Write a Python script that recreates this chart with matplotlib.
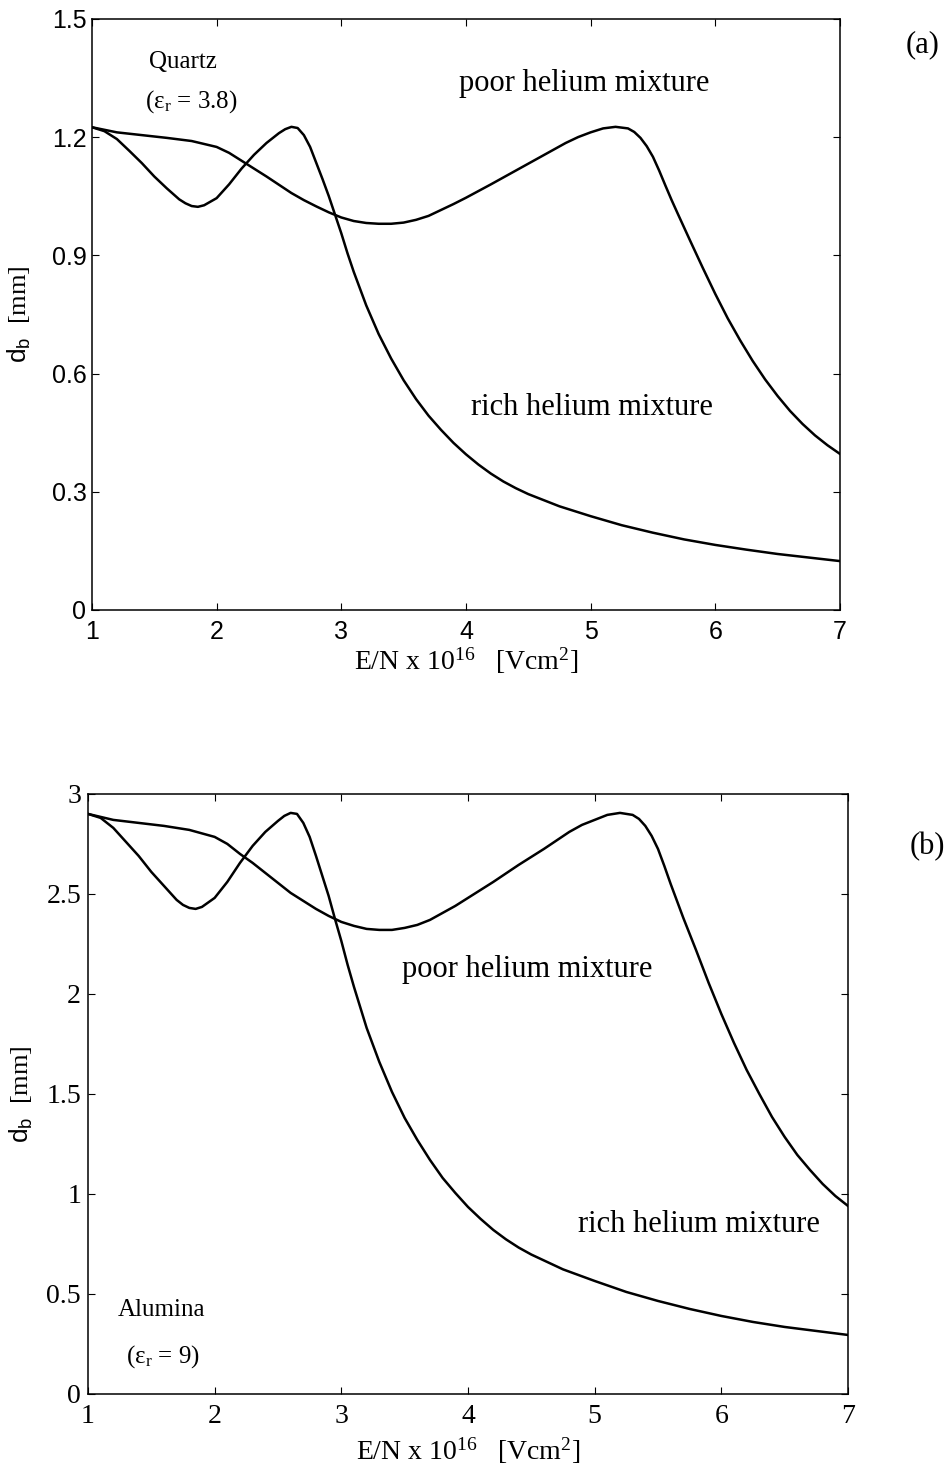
import numpy as np
import matplotlib
matplotlib.use('Agg')
import matplotlib.pyplot as plt

plt.rcParams['mathtext.fontset'] = 'custom'
plt.rcParams['mathtext.rm'] = 'Liberation Serif'
plt.rcParams['mathtext.sf'] = 'Liberation Sans'
plt.rcParams['mathtext.it'] = 'Liberation Serif:italic'

#1.) data
# (a) quartz
x_rich_a = [1.0, 1.1, 1.2, 1.3, 1.4, 1.5, 1.6, 1.7, 1.75, 1.8, 1.85, 1.9, 2.0,
            2.1, 2.2, 2.3, 2.4, 2.5, 2.55, 2.6, 2.65, 2.7, 2.75, 2.8, 2.85, 2.9,
            2.95, 3.0, 3.05, 3.1, 3.2, 3.3, 3.4, 3.5, 3.6, 3.7, 3.8, 3.9, 4.0,
            4.1, 4.2, 4.3, 4.4, 4.5, 4.75, 5.0, 5.25, 5.5, 5.75, 6.0, 6.25, 6.5,
            6.75, 7.0]
d_rich_a = [1.225, 1.215, 1.195, 1.165, 1.134, 1.10, 1.07, 1.042, 1.032, 1.025,
            1.023, 1.027, 1.045, 1.08, 1.12, 1.155, 1.185, 1.21, 1.22, 1.226,
            1.223, 1.205, 1.175, 1.134, 1.093, 1.05, 1.003, 0.956, 0.905, 0.858,
            0.773, 0.70, 0.638, 0.583, 0.535, 0.493, 0.457, 0.424, 0.395, 0.369,
            0.346, 0.326, 0.309, 0.294, 0.263, 0.238, 0.215, 0.196, 0.179, 0.165,
            0.153, 0.142, 0.133, 0.124]

x_poor_a = [1.0, 1.2, 1.4, 1.6, 1.8, 2.0, 2.1, 2.2, 2.3, 2.4, 2.5, 2.6, 2.7, 2.8,
            2.9, 3.0, 3.1, 3.2, 3.3, 3.4, 3.5, 3.6, 3.7, 3.8, 3.9, 4.0, 4.2, 4.4,
            4.6, 4.8, 4.9, 5.0, 5.1, 5.2, 5.3, 5.35, 5.4, 5.45, 5.5, 5.55, 5.6,
            5.65, 5.7, 5.8, 5.9, 6.0, 6.1, 6.2, 6.3, 6.4, 6.5, 6.6, 6.7, 6.8,
            6.9, 7.0]
d_poor_a = [1.225, 1.212, 1.205, 1.198, 1.19, 1.175, 1.16, 1.14, 1.12, 1.10,
            1.079, 1.058, 1.04, 1.024, 1.009, 0.996, 0.987, 0.982, 0.98, 0.98,
            0.983, 0.99, 1.0, 1.015, 1.03, 1.046, 1.08, 1.115, 1.15, 1.185, 1.2,
            1.212, 1.222, 1.226, 1.222, 1.213, 1.198, 1.177, 1.15, 1.115, 1.077,
            1.04, 1.005, 0.936, 0.868, 0.802, 0.74, 0.684, 0.632, 0.585, 0.543,
            0.505, 0.472, 0.443, 0.418, 0.396]

# (b) alumina
x_rich_b = x_rich_a
d_rich_b = [2.90, 2.88, 2.83, 2.76, 2.69, 2.61, 2.54, 2.47, 2.445, 2.43, 2.425,
            2.435, 2.48, 2.56, 2.655, 2.74, 2.81, 2.865, 2.89, 2.905, 2.90, 2.855,
            2.785, 2.69, 2.59, 2.49, 2.375, 2.265, 2.145, 2.035, 1.83, 1.66, 1.51,
            1.38, 1.27, 1.17, 1.08, 1.005, 0.935, 0.875, 0.82, 0.773, 0.732, 0.697,
            0.623, 0.565, 0.51, 0.465, 0.425, 0.39, 0.36, 0.335, 0.315, 0.295]

x_poor_b = x_poor_a
d_poor_b = [2.90, 2.87, 2.855, 2.84, 2.82, 2.785, 2.75, 2.70, 2.655, 2.605,
            2.555, 2.505, 2.465, 2.425, 2.39, 2.36, 2.34, 2.325, 2.32, 2.32, 2.33,
            2.345, 2.37, 2.405, 2.44, 2.48, 2.56, 2.645, 2.725, 2.81, 2.845, 2.87,
            2.895, 2.905, 2.895, 2.875, 2.84, 2.79, 2.725, 2.64, 2.55, 2.465, 2.38,
            2.22, 2.055, 1.90, 1.755, 1.62, 1.50, 1.385, 1.285, 1.195, 1.12, 1.05,
            0.99, 0.94]

xticks = [1, 2, 3, 4, 5, 6, 7]
yticks_a = [0, 0.3, 0.6, 0.9, 1.2, 1.5]
ytick_labels_a = ['0', '0.3', '0.6', '0.9', '1.2', '1.5']
yticks_b = [0, 0.5, 1, 1.5, 2, 2.5, 3]
ytick_labels_b = ['0', '0.5', '1', '1.5', '2', '2.5', '3']

serif = 'Liberation Serif'
sans = 'Liberation Sans'
xlabel = r'E/N x 10$^{16}$   [Vcm$^{2}$]'
ylabel = r'$\mathsf{d_b}$  [mm]'

#2.) figure
fig = plt.figure(figsize=(9.48, 14.74), dpi=100)
ax1 = fig.add_axes([0.0970, 0.5862, 0.7890, 0.4010])
ax2 = fig.add_axes([0.0928, 0.0543, 0.8017, 0.4071])


def style_axes(ax, tick_font, tick_size, xpad, ypad):
    for sp in ax.spines.values():
        sp.set_linewidth(1.1)
    ax.tick_params(direction='in', length=5, width=0.8, top=True, right=True)
    ax.tick_params(axis='x', pad=xpad)
    ax.tick_params(axis='y', pad=ypad)
    for lab in ax.get_xticklabels() + ax.get_yticklabels():
        lab.set_fontfamily(tick_font)
        lab.set_fontsize(tick_size)


line_kw = dict(color='black', lw=1.8, solid_joinstyle='round')

#3.) panel (a)
ax1.plot(x_rich_a, d_rich_a, **line_kw)
ax1.plot(x_poor_a, d_poor_a, **line_kw)
ax1.set_xlim(1, 7)
ax1.set_ylim(0, 1.5)
ax1.set_xticks(xticks)
ax1.set_yticks(yticks_a)
ax1.set_yticklabels(ytick_labels_a)
style_axes(ax1, sans, 18, 7, 4)
ax1.set_xlabel(xlabel, fontfamily=serif, fontsize=20)
ax1.xaxis.set_label_coords(0.5, -0.060)
ax1.xaxis.label.set_va('top')
ax1.set_ylabel(ylabel, fontfamily=serif, fontsize=19)
ax1.yaxis.set_label_coords(-0.079, 0.5)

ax1.text(1.73, 1.39, 'Quartz', fontfamily=serif, fontsize=18, ha='center', va='center')
ax1.text(1.80, 1.29, r'(ε$_{\mathregular{r}}$ = 3.8)', fontfamily=serif, fontsize=18,
         ha='center', va='center')
ax1.text(4.95, 1.335, 'poor helium mixture', fontfamily=serif, fontsize=22,
         ha='center', va='center')
ax1.text(5.01, 0.515, 'rich helium mixture', fontfamily=serif, fontsize=22,
         ha='center', va='center')
fig.text(923 / 948, 1 - 45 / 1474, '(a)', fontfamily=serif, fontsize=22,
         ha='center', va='center')

#4.) panel (b)
ax2.plot(x_rich_b, d_rich_b, **line_kw)
ax2.plot(x_poor_b, d_poor_b, **line_kw)
ax2.set_xlim(1, 7)
ax2.set_ylim(0, 3)
ax2.set_xticks(xticks)
ax2.set_yticks(yticks_b)
ax2.set_yticklabels(ytick_labels_b)
style_axes(ax2, serif, 20, 7, 5)
ax2.set_xlabel(xlabel, fontfamily=serif, fontsize=20)
ax2.xaxis.set_label_coords(0.5, -0.070)
ax2.xaxis.label.set_va('top')
ax2.set_ylabel(ylabel, fontfamily=serif, fontsize=19)
ax2.yaxis.set_label_coords(-0.07, 0.5)

ax2.text(4.47, 2.12, 'poor helium mixture', fontfamily=serif, fontsize=22,
         ha='center', va='center')
ax2.text(5.82, 0.845, 'rich helium mixture', fontfamily=serif, fontsize=22,
         ha='center', va='center')
ax2.text(1.58, 0.42, 'Alumina', fontfamily=serif, fontsize=18, ha='center', va='center')
ax2.text(1.59, 0.185, r'(ε$_{\mathregular{r}}$ = 9)', fontfamily=serif, fontsize=18,
         ha='center', va='center')
fig.text(945 / 948, 1 - 847 / 1474, '(b)', fontfamily=serif, fontsize=22,
         ha='right', va='center')

fig.savefig('out.png', dpi=100, facecolor='white')
